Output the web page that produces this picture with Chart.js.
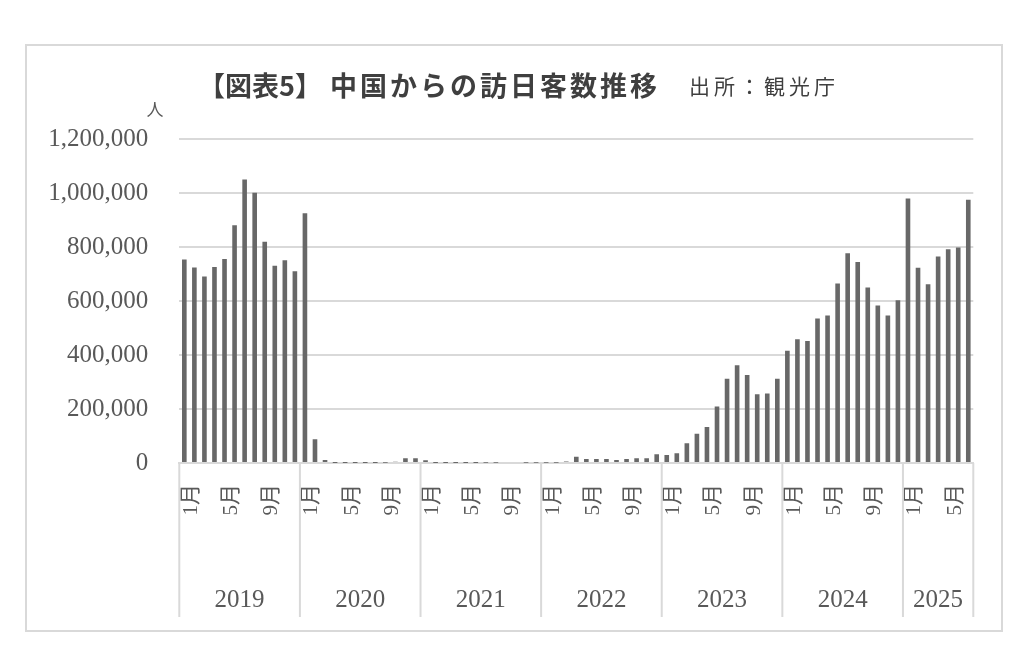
<!DOCTYPE html>
<html>
<head>
<meta charset="utf-8">
<script src="https://cdn.jsdelivr.net/npm/chart.js@4.4.1/dist/chart.umd.min.js"></script>
<style>
html,body{margin:0;padding:0;background:#fff;}
#c{display:block;}
</style>
</head>
<body>
<canvas id="c" width="1024" height="667"></canvas>
<script>
// ---- data ----
const years = ['2019','2020','2021','2022','2023','2024','2025'];
const monthNames = ['1月','2月','3月','4月','5月','6月','7月','8月','9月','10月','11月','12月'];
const shownMonths = ['1月','5月','9月'];
const visitors2019 = [754000, 724000, 691000, 726000, 756000, 881000, 1050000, 1001000, 819000, 731000, 751000, 710000];
const visitors2020 = [925000, 88000, 11000, 200, 100, 100, 200, 300, 500, 5000, 18000, 18000];
const visitors2021 = [10000, 300, 300, 300, 300, 300, 500, 500, 4000, 4000, 600, 600];
const visitors2022 = [500, 500, 6000, 23000, 15000, 15000, 15000, 11000, 15000, 18000, 18000, 32000];
const visitors2023 = [30000, 36000, 73000, 108000, 133000, 209000, 312000, 362000, 326000, 255000, 257000, 312000];
const visitors2024 = [416000, 458000, 452000, 535000, 546000, 665000, 777000, 744000, 650000, 583000, 546000, 603000];
const visitors2025 = [980000, 723000, 662000, 765000, 792000, 798000, 975000];
const yTickValues = [0, 200000, 400000, 600000, 800000, 1000000, 1200000];
const titleMain = '【図表5】';
const titleRest = '中国からの訪日客数推移';
const titleSource = '出所：観光庁';
const unitLabel = '人';

const seriesByYear = [visitors2019, visitors2020, visitors2021, visitors2022, visitors2023, visitors2024, visitors2025];
const categories = [];
seriesByYear.forEach(arr => arr.forEach((v, m) => categories.push(monthNames[m])));
const values = seriesByYear.flat();

const GRID = '#d9d9d9';
const TEXT = '#595959';
const SERIF = '"Liberation Serif", "Noto Sans CJK JP", serif';

const frameAndTitle = {
  id: 'frameAndTitle',
  beforeDraw(chart) {
    const ctx = chart.ctx;
    ctx.save();
    ctx.fillStyle = '#fff';
    ctx.fillRect(0, 0, chart.width, chart.height);
    ctx.strokeStyle = GRID;
    ctx.lineWidth = 2;
    ctx.strokeRect(26, 45, 976, 586);
    ctx.restore();
  },
  afterDraw(chart) {
    const ctx = chart.ctx;
    ctx.save();
    ctx.fillStyle = '#3f3f3f';
    ctx.textBaseline = 'alphabetic';
    ctx.textAlign = 'left';
    ctx.font = 'bold 27px "Noto Sans CJK JP"';
    ctx.fillText(titleMain, 198, 96);
    ctx.letterSpacing = '3px';
    ctx.fillText(titleRest, 330, 96);
    ctx.font = '21px "Noto Sans CJK JP"';
    ctx.letterSpacing = '4px';
    ctx.fillText(titleSource, 689, 94);
    ctx.letterSpacing = '0px';
    ctx.fillStyle = TEXT;
    ctx.font = '17px "Noto Sans CJK JP"';
    ctx.textAlign = 'center';
    ctx.fillText(unitLabel, 155, 116);
    ctx.restore();
  }
};

const yearGroups = {
  id: 'yearGroups',
  afterDraw(chart) {
    const xs = chart.scales.x;
    const ctx = chart.ctx;
    const half = (xs.getPixelForValue(1) - xs.getPixelForValue(0)) / 2;
    ctx.save();
    ctx.strokeStyle = GRID;
    ctx.lineWidth = 2;
    ctx.fillStyle = TEXT;
    ctx.font = '25px ' + SERIF;
    ctx.textAlign = 'center';
    ctx.textBaseline = 'middle';
    let start = 0;
    seriesByYear.forEach((arr, yi) => {
      const l = xs.getPixelForValue(start) - half;
      const r = xs.getPixelForValue(start + arr.length - 1) + half;
      ctx.beginPath();
      ctx.moveTo(l, xs.top);
      ctx.lineTo(l, xs.bottom);
      if (yi === seriesByYear.length - 1) {
        ctx.moveTo(r, xs.top);
        ctx.lineTo(r, xs.bottom);
      }
      ctx.stroke();
      ctx.fillText(years[yi], (l + r) / 2, xs.bottom - 17);
      start += arr.length;
    });
    ctx.restore();
  }
};

new Chart(document.getElementById('c'), {
  type: 'bar',
  data: {
    labels: categories,
    datasets: [{
      label: '訪日客数',
      data: values,
      backgroundColor: '#686868',
      borderWidth: 0,
      categoryPercentage: 1,
      barPercentage: 0.46
    }]
  },
  options: {
    responsive: false,
    devicePixelRatio: 1,
    animation: false,
    layout: { padding: { top: 139, right: 50.7, bottom: 50, left: 0 } },
    plugins: { legend: { display: false }, title: { display: false }, tooltip: { enabled: false } },
    scales: {
      x: {
        type: 'category',
        grid: { display: false, drawTicks: false },
        border: { display: true, color: GRID, width: 2 },
        ticks: {
          autoSkip: false,
          minRotation: 90,
          maxRotation: 90,
          padding: 21,
          labelOffset: 7,
          color: TEXT,
          font: { family: SERIF, size: 21 },
          callback: function (val, idx) {
            const lab = categories[idx];
            return shownMonths.includes(lab) ? lab : '';
          }
        },
        afterFit: function (scale) { scale.height = 154; }
      },
      y: {
        min: 0,
        max: 1200000,
        afterBuildTicks: function (scale) { scale.ticks = yTickValues.map(v => ({ value: v })); },
        grid: { color: GRID, lineWidth: 2, drawTicks: false },
        border: { display: false },
        ticks: {
          padding: 31,
          color: TEXT,
          font: { family: SERIF, size: 25 },
          callback: function (v) { return Number(v).toLocaleString('en-US'); }
        },
        afterFit: function (scale) { scale.width = 179.3; }
      }
    }
  },
  plugins: [frameAndTitle, yearGroups]
});
</script>
</body>
</html>
